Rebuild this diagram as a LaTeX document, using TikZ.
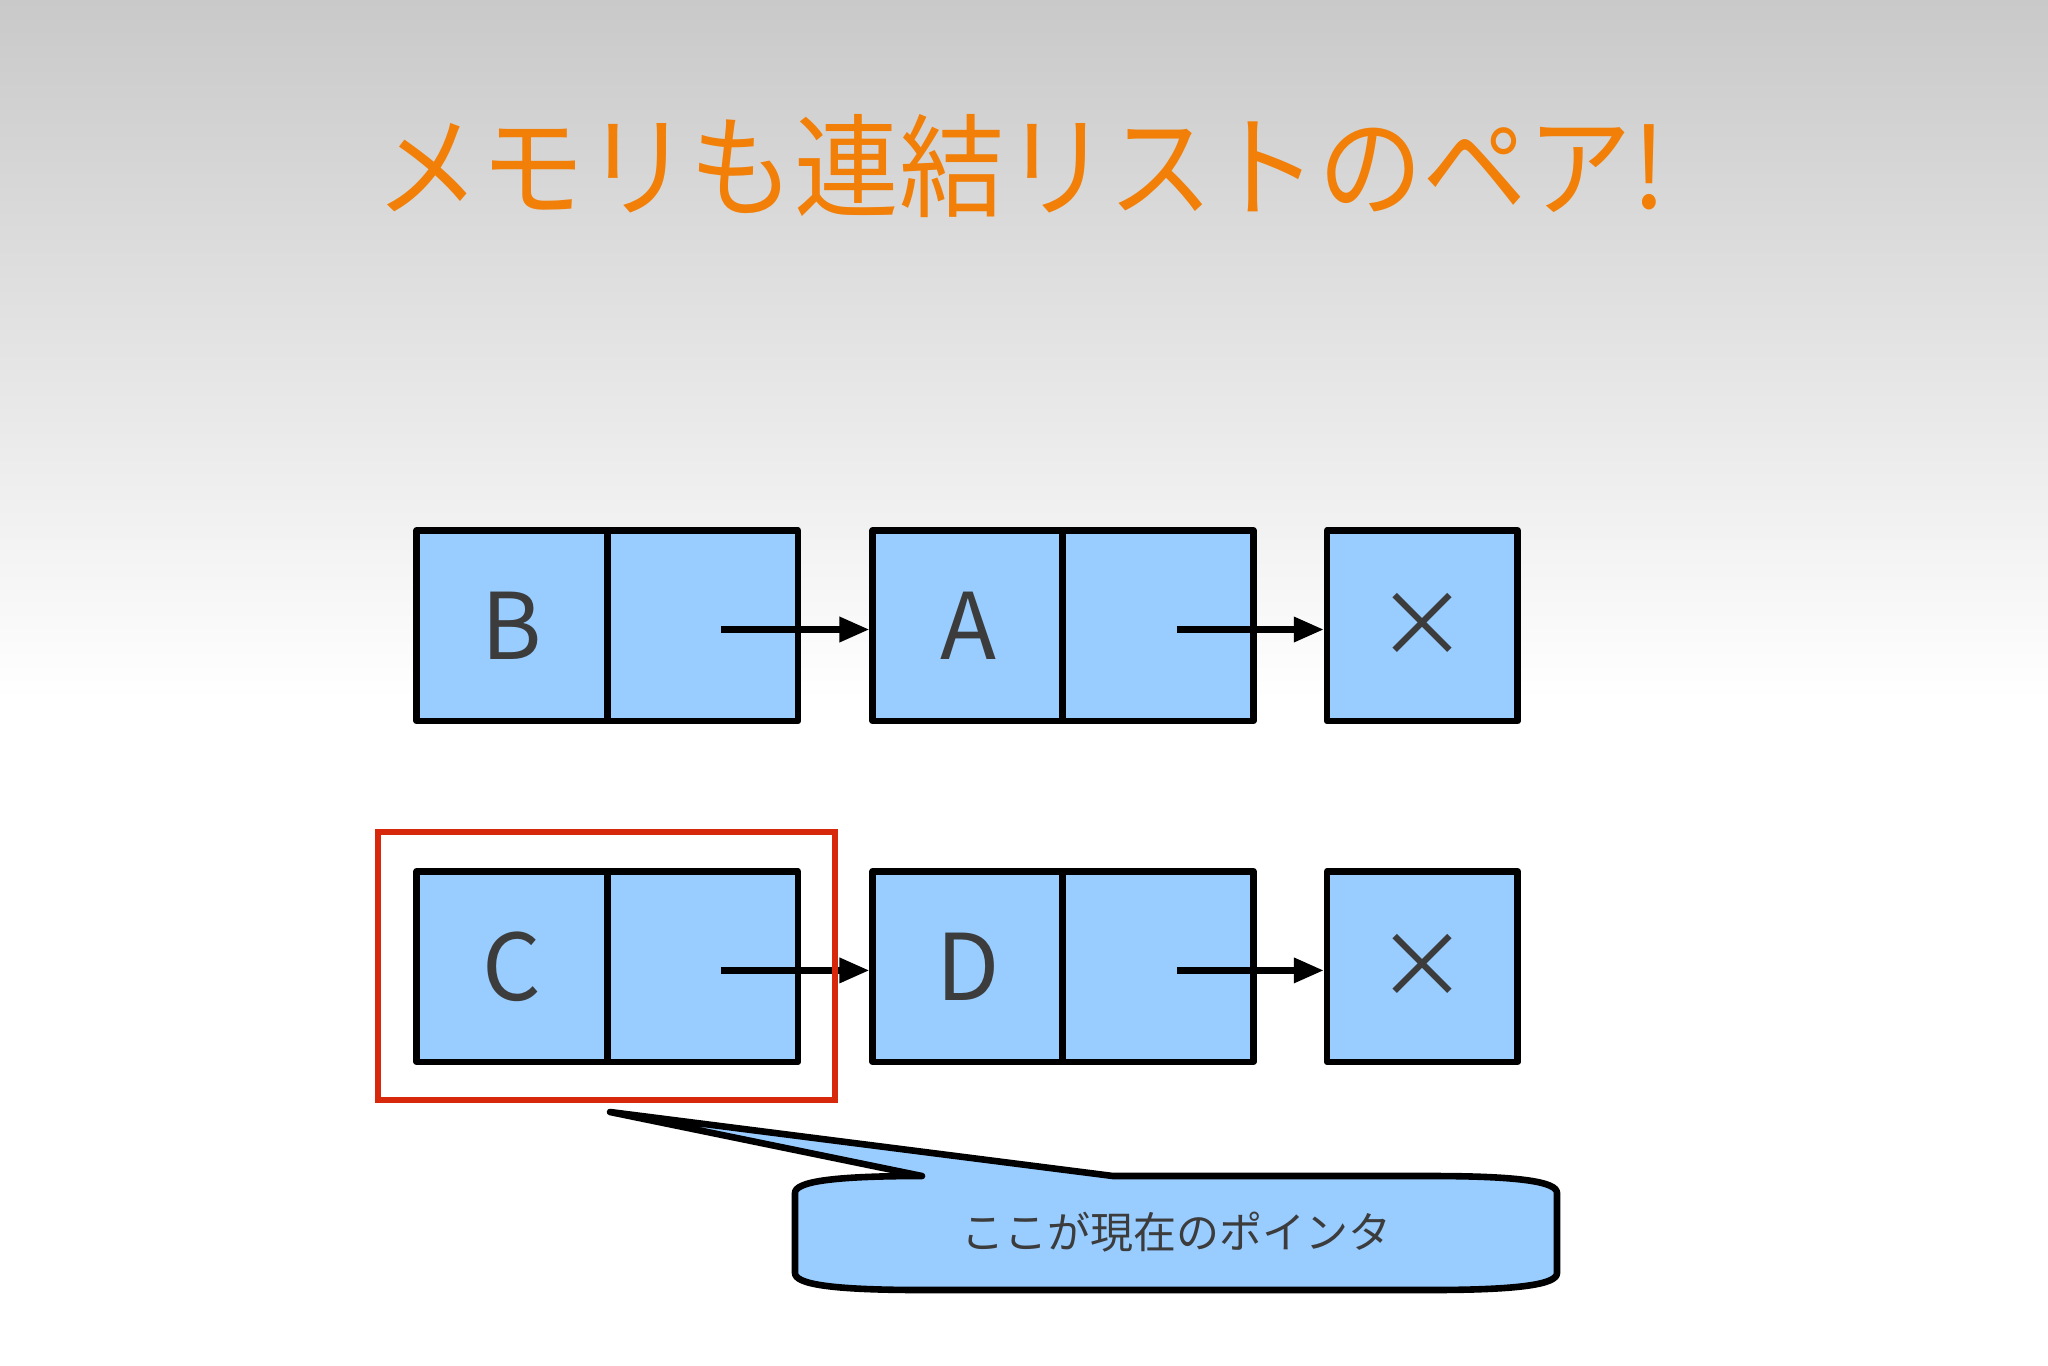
\documentclass[tikz,border=0pt]{standalone}
\usepackage{fontspec}
\setmainfont{Noto Sans CJK JP}
\newfontfamily\titlefont[FakeStretch=0.935]{Noto Sans CJK JP}
\usetikzlibrary{arrows.meta}
\definecolor{cellblue}{HTML}{99CCFF}
\definecolor{titleorange}{HTML}{F27F07}
\definecolor{selred}{HTML}{D8280C}
\definecolor{txtgray}{HTML}{3C3C3C}
\definecolor{bgtop}{HTML}{C9C9C9}
\tikzset{
  cell/.style={draw=black, fill=cellblue, line width=3.3pt, minimum width=95.3pt, minimum height=95.3pt, inner sep=0pt, text=txtgray, font=\fontsize{46pt}{50pt}\selectfont, line join=round},
  link/.style={line width=3.3pt, -{Triangle[length=15pt,width=12pt]}},
  selbox/.style={draw=selred, line width=3pt, minimum width=228.5pt, minimum height=134pt, inner sep=0pt},
  callout/.style={draw=black, fill=cellblue, line width=3.3pt, line join=round},
}
\begin{document}
\begin{tikzpicture}[x=0.5pt,y=-0.5pt]
\useasboundingbox (0,0) rectangle (2048,1365);
\shade[top color=bgtop, bottom color=white] (0,0) rectangle (2048,700);
\fill[white] (0,699) rectangle (2048,1365);
\node[text=titleorange, font=\titlefont\fontsize{56pt}{64pt}\selectfont, inner sep=0pt] (title) at (1021,166) {メモリも連結リストのペア!};
% top row
\node[cell] (b1) at (512,625.7) {B};
\node[cell] (b2) at (702.6,625.7) {};
\node[cell] (a1) at (968,625.7) {A};
\node[cell] (a2) at (1158,625.7) {};
\node[cell] (x1) at (1422.4,625.7) {×};
% bottom row
\node[cell] (c1) at (512,966.5) {C};
\node[cell] (c2) at (702.6,966.5) {};
\node[cell] (d1) at (968,966.5) {D};
\node[cell] (d2) at (1158,966.5) {};
\node[cell] (x2) at (1422.4,966.5) {×};
% pointers
\coordinate (pb) at (721,629.5);
\coordinate (pa) at (1177,629.5);
\coordinate (pc) at (721,970.4);
\coordinate (pd) at (1177,970.4);
\draw[link] (pb) -- (pb -| a1.west);
\draw[link] (pa) -- (pa -| x1.west);
\draw[link] (pc) -- (pc -| d1.west);
\draw[link] (pd) -- (pd -| x2.west);
% selection
\node[selbox] (sel) at (606,965.9) {};
% callout
\coordinate (tip) at (610,1112);
\draw[callout] (922,1176) -- (tip) -- (1113,1176) -- (1430,1176)
  .. controls (1522,1176) and (1557,1182) .. (1557,1193) -- (1557,1273)
  .. controls (1557,1284) and (1522,1290) .. (1430,1290) -- (922,1290)
  .. controls (830,1290) and (795,1284) .. (795,1273) -- (795,1193)
  .. controls (795,1182) and (830,1176) .. (922,1176) -- cycle;
\node[text=txtgray, font=\fontsize{21.5pt}{26pt}\selectfont, inner sep=0pt] (lbl) at (1176,1232) {ここが現在のポインタ};
\end{tikzpicture}
\end{document}
